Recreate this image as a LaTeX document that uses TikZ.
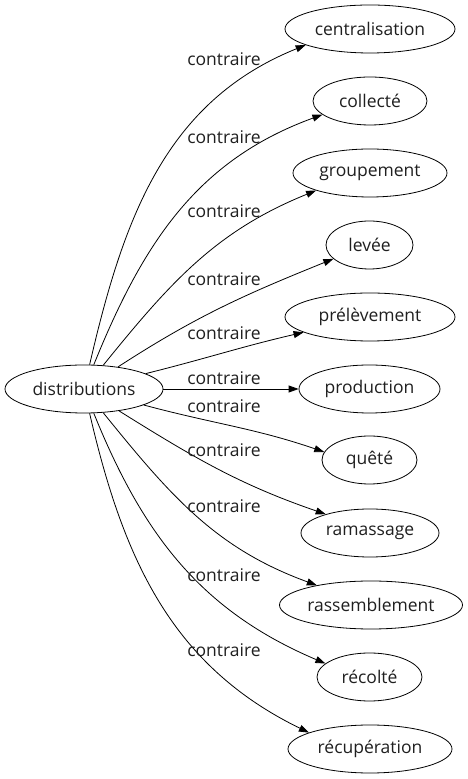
\documentclass[tikz,border=0pt]{standalone}
\usepackage{fontspec}
\setmainfont{Open Sans}
\usetikzlibrary{arrows.meta,shapes.geometric}
\begin{document}
\begin{tikzpicture}[x=1pt,y=1pt,
  word/.style={ellipse, draw, line width=0.8pt, minimum height=48pt, inner sep=0pt,
    font=\fontsize{17.5}{19}\selectfont, text=black!88},
  rel/.style={font=\fontsize{17.5}{19}\selectfont, text=black!88, inner sep=0pt},
  link/.style={line width=0.8pt, -{Triangle[length=10pt,width=7pt]}}]
\useasboundingbox (0,0) rectangle (467,779);
\node[word, minimum width=158pt] (d) at (84,390) {distributions};
\node[word, minimum width=170pt] (t1) at (370,750) {centralisation};
\node[word, minimum width=114pt] (t2) at (370,678) {collecté};
\node[word, minimum width=154pt] (t3) at (370,606) {groupement};
\node[word, minimum width=87pt] (t4) at (369.5,534) {levée};
\node[word, minimum width=170pt] (t5) at (370,462) {prélèvement};
\node[word, minimum width=141pt] (t6) at (369.5,390) {production};
\node[word, minimum width=95pt] (t7) at (369.5,319) {quêté};
\node[word, minimum width=138pt] (t8) at (370,246) {ramassage};
\node[word, minimum width=183pt] (t9) at (371,174) {rassemblement};
\node[word, minimum width=105pt] (t10) at (369.5,102) {récolté};
\node[word, minimum width=164pt] (t11) at (370,30) {récupération};

\draw[link] (d.77) to[out=77,in=202] (t1.194);
\draw[link] (d.68) to[out=68,in=200] (t2.196);
\draw[link] (d.51) to[out=51,in=202] (t3.198);
\draw[link] (d.33) to[out=33,in=202] (t4.201);
\draw[link] (d.14) to[out=14,in=193] (t5.193);
\draw[link] (d.east) -- (t6.west);
\draw[link] (d.345) to[out=345,in=161] (t7.170);
\draw[link] (d.328) to[out=328,in=161] (t8.157);
\draw[link] (d.309) to[out=309,in=160] (t9.160);
\draw[link] (d.292) to[out=292,in=157] (t10.163);
\draw[link] (d.283) to[out=283,in=154] (t11.165);

\node[rel] (l1) at (224,720) {contraire};
\node[rel] (l2) at (224,642) {contraire};
\node[rel] (l3) at (224,568) {contraire};
\node[rel] (l4) at (224,500) {contraire};
\node[rel] (l5) at (224,446) {contraire};
\node[rel] (l6) at (224,401) {contraire};
\node[rel] (l7) at (224,373) {contraire};
\node[rel] (l8) at (224,329) {contraire};
\node[rel] (l9) at (224,273) {contraire};
\node[rel] (l10) at (224,204) {contraire};
\node[rel] (l11) at (224,129) {contraire};
\end{tikzpicture}
\end{document}
